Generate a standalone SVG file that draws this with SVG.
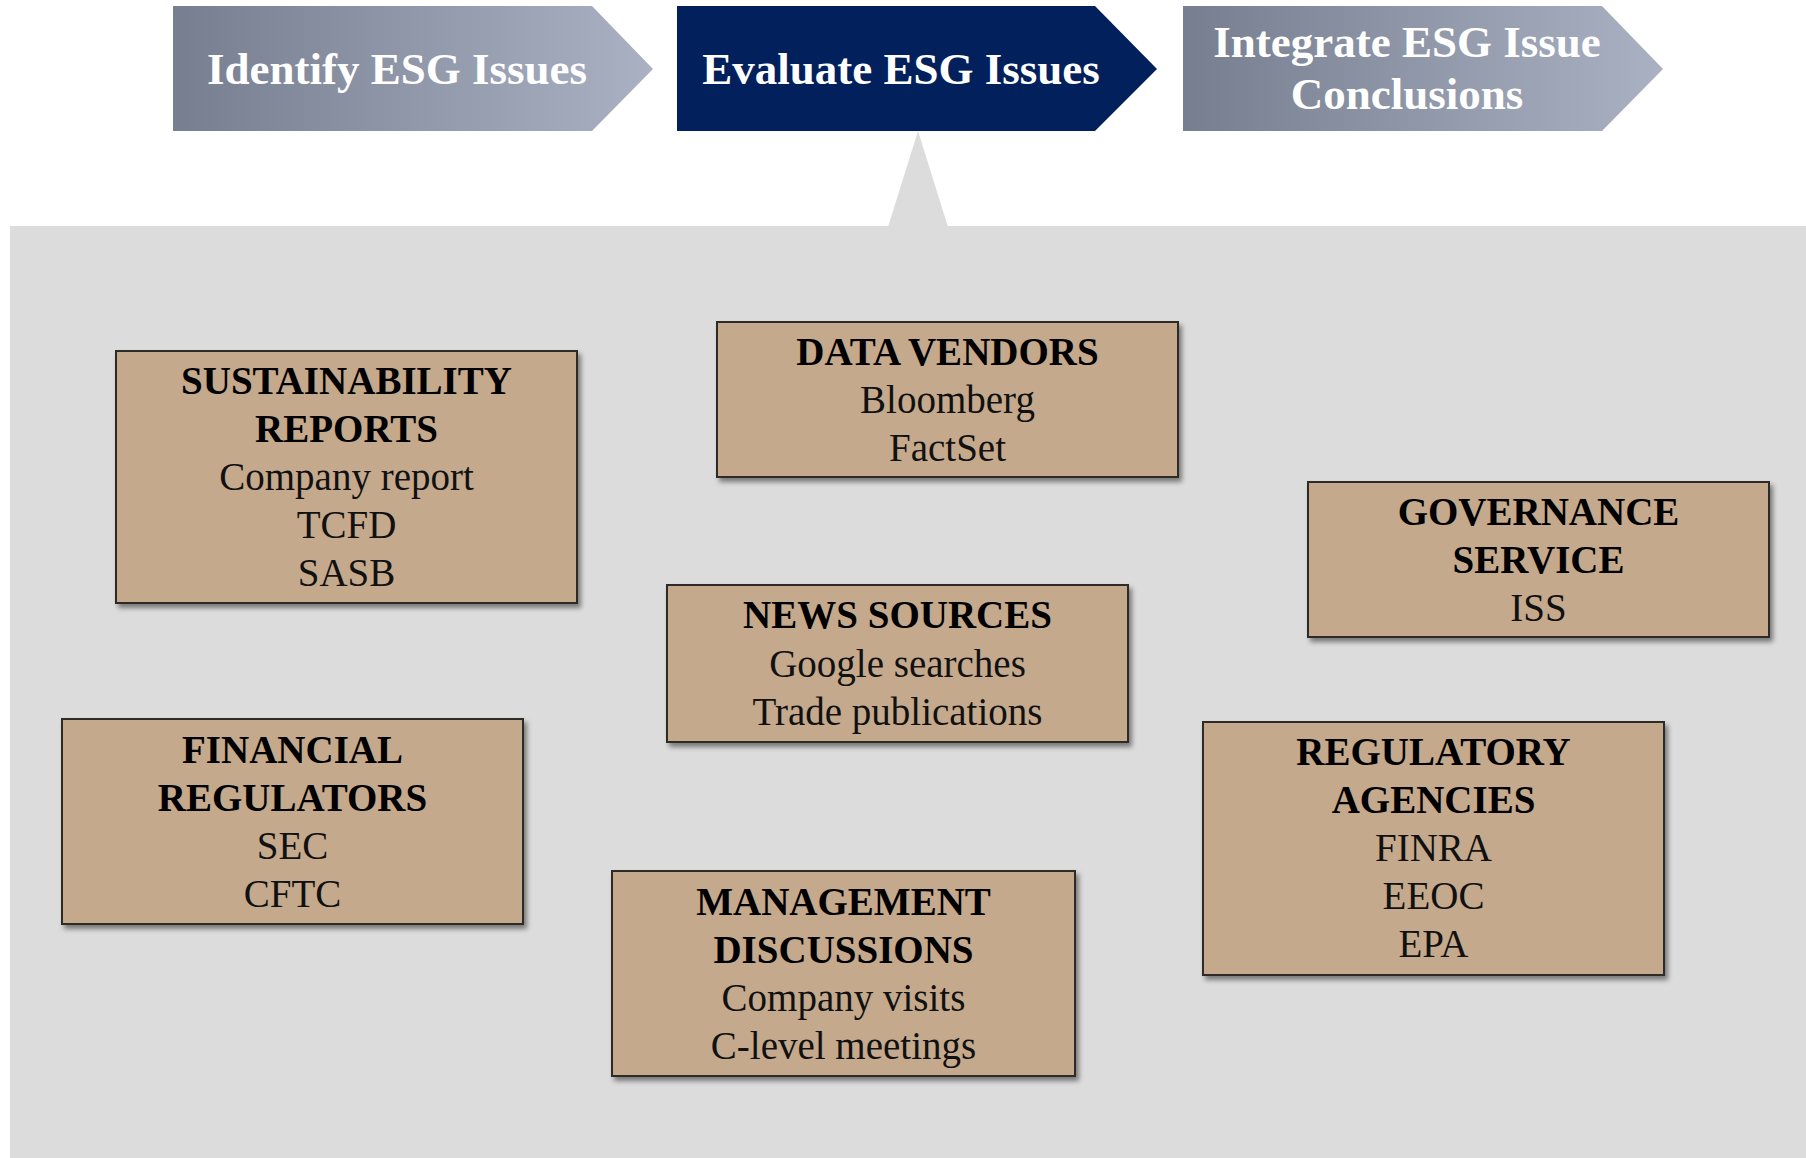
<svg xmlns="http://www.w3.org/2000/svg" width="1806" height="1158" viewBox="0 0 1806 1158">
  <defs>
    <linearGradient id="steelGrad" x1="0" y1="0" x2="1" y2="0">
      <stop offset="0" stop-color="#767e90"/>
      <stop offset="1" stop-color="#a9b1c3"/>
    </linearGradient>
    <filter id="boxShadow" x="-5%" y="-5%" width="112%" height="115%">
      <feDropShadow dx="3" dy="4" stdDeviation="2.5" flood-color="#000" flood-opacity="0.45"/>
    </filter>
  </defs>
  <style>
    .step-text { font-family: "Liberation Serif", "Times New Roman", serif; font-weight: bold; font-size: 45px; fill: #ffffff; text-anchor: middle; }
    .box { fill: #c5a98c; stroke: #2e2a26; stroke-width: 2; filter: url(#boxShadow); }
    .head { font-family: "Liberation Serif", "Times New Roman", serif; font-weight: bold; font-size: 39px; fill: #000; text-anchor: middle; }
    .item { font-family: "Liberation Serif", "Times New Roman", serif; font-size: 39px; fill: #111; text-anchor: middle; }
  </style>

  <rect width="1806" height="1158" fill="#ffffff"/>

  <!-- evaluation panel with pointer to the active step -->
  <g id="panel">
    <rect x="10" y="226" width="1796" height="932" fill="#dcdcdc"/>
    <polygon points="918,131 948,227 888,227" fill="#dcdcdc"/>
  </g>

  <!-- process steps -->
  <g id="step-identify">
    <polygon points="173,6 592,6 653,69 592,131 173,131" fill="url(#steelGrad)"/>
    <text class="step-text" x="397" y="84">Identify ESG Issues</text>
  </g>
  <g id="step-evaluate">
    <polygon points="677,6 1095,6 1157,69 1095,131 677,131" fill="#01205c"/>
    <text class="step-text" x="901" y="84">Evaluate ESG Issues</text>
  </g>
  <g id="step-integrate">
    <polygon points="1183,6 1602,6 1663,69 1602,131 1183,131" fill="url(#steelGrad)"/>
    <text class="step-text" x="1407" y="57">Integrate ESG Issue</text>
    <text class="step-text" x="1407" y="109">Conclusions</text>
  </g>

  <g id="connectors"></g>

  <!-- information sources -->
  <g id="sustainability-reports">
    <rect class="box" x="116" y="351" width="461" height="252"/>
    <text class="head" x="346.5" y="394">SUSTAINABILITY</text>
    <text class="head" x="346.5" y="442">REPORTS</text>
    <text class="item" x="346.5" y="490">Company report</text>
    <text class="item" x="346.5" y="538">TCFD</text>
    <text class="item" x="346.5" y="586">SASB</text>
  </g>

  <g id="data-vendors">
    <rect class="box" x="717" y="322" width="461" height="155"/>
    <text class="head" x="947.5" y="365">DATA VENDORS</text>
    <text class="item" x="947.5" y="413">Bloomberg</text>
    <text class="item" x="947.5" y="461">FactSet</text>
  </g>

  <g id="governance-service">
    <rect class="box" x="1308" y="482" width="461" height="155"/>
    <text class="head" x="1538.5" y="525">GOVERNANCE</text>
    <text class="head" x="1538.5" y="573">SERVICE</text>
    <text class="item" x="1538.5" y="621">ISS</text>
  </g>

  <g id="news-sources">
    <rect class="box" x="667" y="585" width="461" height="157"/>
    <text class="head" x="897.5" y="628">NEWS SOURCES</text>
    <text class="item" x="897.5" y="677">Google searches</text>
    <text class="item" x="897.5" y="725">Trade publications</text>
  </g>

  <g id="financial-regulators">
    <rect class="box" x="62" y="719" width="461" height="205"/>
    <text class="head" x="292.5" y="763">FINANCIAL</text>
    <text class="head" x="292.5" y="811">REGULATORS</text>
    <text class="item" x="292.5" y="859">SEC</text>
    <text class="item" x="292.5" y="907">CFTC</text>
  </g>

  <g id="management-discussions">
    <rect class="box" x="612" y="871" width="463" height="205"/>
    <text class="head" x="843.5" y="915">MANAGEMENT</text>
    <text class="head" x="843.5" y="963">DISCUSSIONS</text>
    <text class="item" x="843.5" y="1011">Company visits</text>
    <text class="item" x="843.5" y="1059">C-level meetings</text>
  </g>

  <g id="regulatory-agencies">
    <rect class="box" x="1203" y="722" width="461" height="253"/>
    <text class="head" x="1433.5" y="765">REGULATORY</text>
    <text class="head" x="1433.5" y="813">AGENCIES</text>
    <text class="item" x="1433.5" y="861">FINRA</text>
    <text class="item" x="1433.5" y="909">EEOC</text>
    <text class="item" x="1433.5" y="957">EPA</text>
  </g>
</svg>
